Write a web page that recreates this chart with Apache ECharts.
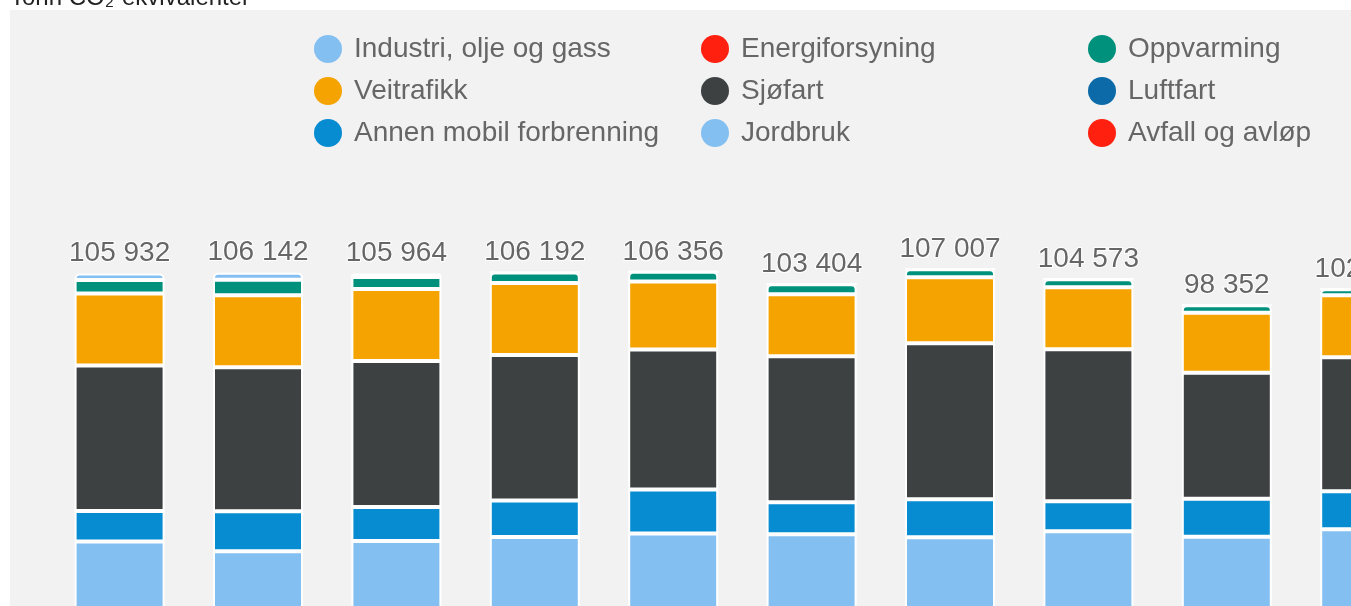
<!DOCTYPE html>
<html>
<head>
<meta charset="utf-8">
<script src="https://cdn.jsdelivr.net/npm/echarts@6/dist/echarts.min.js"></script>
<style>html,body{margin:0;padding:0;background:#fff}#c{width:1351px;height:606px}</style>
</head>
<body>
<div id="c"></div>
<script>
// ---- data (tonn CO2-ekvivalenter) ----
var categories = ['2009','2010','2011','2012','2013','2014','2015','2016','2017','2018'];
var industri     = [1560, 1680, 840, 0, 0, 0, 0, 0, 0, 0];
var energi       = [0, 0, 0, 0, 0, 0, 0, 0, 0, 0];
var oppvarming   = [3240, 3720, 2880, 2520, 2300, 2400, 1920, 1920, 1800, 1400];
var veitrafikk   = [17280, 17280, 17280, 17280, 16320, 14880, 15840, 14880, 14400, 14880];
var sjofart      = [34920, 34560, 35040, 34920, 33600, 35040, 37440, 36480, 30240, 32160];
var luftfart     = [0, 0, 0, 0, 0, 0, 0, 0, 0, 0];
var annenMobil   = [7320, 9600, 8160, 8760, 10560, 7680, 9120, 7200, 9120, 9120];
var jordbruk     = [39482, 37222, 39754, 40752, 41636, 41534, 40867, 42303, 41062, 42908];
var avfall       = [2130, 2080, 2010, 1960, 1940, 1870, 1820, 1790, 1730, 1700];

var names = ['Industri, olje og gass','Energiforsyning','Oppvarming','Veitrafikk','Sjøfart','Luftfart','Annen mobil forbrenning','Jordbruk','Avfall og avløp'];
var colors = ['#84bff2','#ff200f','#00917d','#f5a300','#3d4142','#0b6aa7','#078cd2','#84bff2','#ff200f'];
var seriesData = [industri, energi, oppvarming, veitrafikk, sjofart, luftfart, annenMobil, jordbruk, avfall];

function fmt(v){ return String(v).replace(/\B(?=(\d{3})+(?!\d))/g, ' '); }

var totals = categories.map(function(c, i){
  var s = 0; seriesData.forEach(function(a){ s += a[i]; }); return s;
});

var topIdx = categories.map(function(c, i){
  for (var k = 0; k < seriesData.length; k++) if (seriesData[k][i] > 0) return k;
  return -1;
});

var series = [];
for (var k = seriesData.length - 1; k >= 0; k--) {
  (function(k){
    series.push({
      name: names[k],
      type: 'bar',
      stack: 'total',
      barWidth: 90,
      itemStyle: { color: colors[k], borderColor: '#ffffff', borderWidth: 2 },
      emphasis: { disabled: true },
      data: seriesData[k].map(function(v, i){
        var item = { value: v };
        if (topIdx[i] === k) item.itemStyle = { borderRadius: [4,4,0,0] };
        return item;
      })
    });
  })(k);
}
series.push({
  name: 'sum',
  type: 'bar',
  stack: 'total',
  barWidth: 90,
  itemStyle: { color: 'rgba(0,0,0,0)', borderWidth: 0 },
  label: {
    show: true, position: 'top', distance: 6,
    fontFamily: 'Liberation Sans', fontSize: 28, color: '#666666',
    textBorderColor: '#ffffff', textBorderWidth: 2,
    formatter: function(p){ return fmt(totals[p.dataIndex]); }
  },
  data: categories.map(function(){ return 0; })
});

function legendCol(left, items){
  return {
    orient: 'vertical', left: left, top: 35, padding: 0,
    icon: 'circle', itemWidth: 28, itemHeight: 28, itemGap: 14,
    selectedMode: false,
    itemStyle: { borderWidth: 0 },
    textStyle: { fontFamily: 'Liberation Sans', fontSize: 28, color: '#666666', lineHeight: 28, padding: [0,0,0,7] },
    data: items
  };
}

var chart = echarts.init(document.getElementById('c'), null, { renderer: 'canvas' });
chart.setOption({
  animation: false,
  backgroundColor: '#ffffff',
  color: colors,
  title: {
    text: 'Tonn CO₂-ekvivalenter', left: 10, top: -14, padding: 0,
    textStyle: { fontFamily: 'Liberation Sans', fontSize: 24, fontWeight: 'normal', color: '#222222' }
  },
  graphic: [{
    type: 'rect', left: 10, top: 10, z: -10, silent: true,
    shape: { width: 2000, height: 2000 }, style: { fill: '#f2f2f2' }
  }],
  legend: [
    legendCol(314, [names[0], names[3], names[6]]),
    legendCol(701, [names[1], names[4], names[7]]),
    legendCol(1088, [names[2], names[5], names[8]])
  ],
  grid: { left: 50.4, right: -83.4, top: 48.333, bottom: -109, containLabel: false, outerBoundsMode: 'none' },
  xAxis: { type: 'category', data: categories, show: false },
  yAxis: { type: 'value', min: 0, max: 160000, show: false, splitLine: { show: false } },
  series: series
});
</script>
</body>
</html>
